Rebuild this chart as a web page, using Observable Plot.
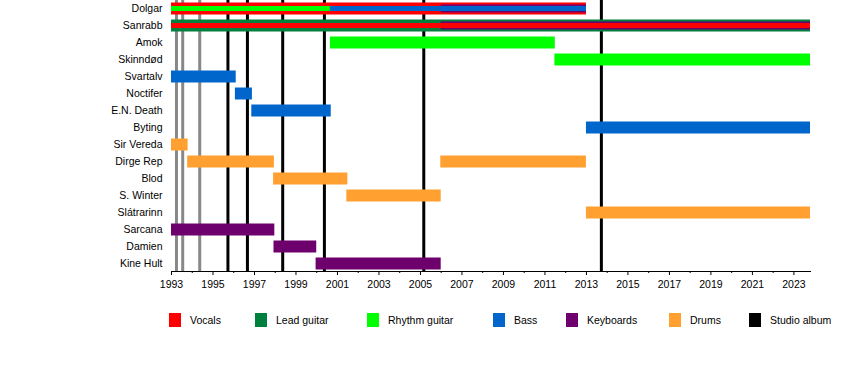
<!DOCTYPE html>
<html>
<head>
<meta charset="utf-8">
<script src="https://cdn.jsdelivr.net/npm/d3@7"></script>
<script src="https://cdn.jsdelivr.net/npm/@observablehq/plot@0.6"></script>
<style>
  html, body { margin: 0; padding: 0; background: #fff; }
  body { font-family: "Liberation Sans", Arial, sans-serif; }
  #chart { position: relative; width: 850px; }
  #legend { position: relative; width: 850px; height: 60px; font-size: 10.5px; color: #000; }
  .item { position: absolute; top: 13px; height: 14px; }
  .sw { position: absolute; left: 0; top: 0; width: 12px; height: 14px; }
  .lb { position: absolute; left: 21px; top: 0; line-height: 14px; white-space: nowrap; }
</style>
</head>
<body>
<div id="chart"></div>
<div id="legend"></div>
<script>
// ---- data ----
const members = ["Dolgar", "Sanrabb", "Amok", "Skinndød", "Svartalv", "Noctifer", "E.N. Death", "Byting",
  "Sir Vereda", "Dirge Rep", "Blod", "S. Winter", "Slátrarinn", "Sarcana", "Damien", "Kine Hult"];
const roles = ["Vocals", "Lead guitar", "Rhythm guitar", "Bass", "Keyboards", "Drums"];
const legendLabels = ["Vocals", "Lead guitar", "Rhythm guitar", "Bass", "Keyboards", "Drums", "Studio album"];
const timelineEnd = 2023.8;
// main role of each member: [member, role, from, to]
const primarySpells = [
  ["Dolgar", "Vocals", 1993, 2013.0],
  ["Sanrabb", "Lead guitar", 1993, timelineEnd],
  ["Amok", "Rhythm guitar", 2000.66, 2011.5],
  ["Skinndød", "Rhythm guitar", 2011.48, timelineEnd],
  ["Svartalv", "Bass", 1993, 1996.12],
  ["Noctifer", "Bass", 1996.08, 1996.9],
  ["E.N. Death", "Bass", 1996.87, 2000.7],
  ["Byting", "Bass", 2013.0, timelineEnd],
  ["Sir Vereda", "Drums", 1993, 1993.8],
  ["Dirge Rep", "Drums", 1993.78, 1997.96],
  ["Dirge Rep", "Drums", 2005.98, 2013.0],
  ["Blod", "Drums", 1997.92, 2001.5],
  ["S. Winter", "Drums", 2001.45, 2006.0],
  ["Slátrarinn", "Drums", 2013.0, timelineEnd],
  ["Sarcana", "Keyboards", 1993, 1997.98],
  ["Damien", "Keyboards", 1997.94, 2000.0],
  ["Kine Hult", "Keyboards", 1999.97, 2006.0]
];
// additional roles
const secondarySpells = [
  ["Dolgar", "Keyboards", 2006.0, 2013.0],
  ["Sanrabb", "Keyboards", 2006.0, timelineEnd]
];
const innerSpells = [
  ["Dolgar", "Rhythm guitar", 1993, 2000.66],
  ["Dolgar", "Bass", 2000.66, 2013.0],
  ["Sanrabb", "Vocals", 1993, timelineEnd]
];
const studioAlbums = [1995.72, 1996.66, 1998.36, 2000.37, 2005.16, 2013.72];
const otherReleases = [1993.24, 1993.54, 1994.36];
const yearTicks = d3.range(1993, 2024, 2);
const minorTicks = d3.range(1994, 2024, 2);

// ---- chart ----
const roleColors = ["#ff0000", "#00803f", "#00ff00", "#0066cc", "#6e006e", "#ffa030"];
const toRows = a => a.map(([member, role, from, to]) => ({member, role, from, to}));
const color = d => roleColors[roles.indexOf(d.role)];
const font = "'Liberation Sans', Arial, sans-serif";

const chart = Plot.plot({
  width: 850,
  height: 300,
  marginLeft: 171,
  marginRight: 40,
  marginTop: 0,
  marginBottom: 29,
  style: {fontFamily: font, fontSize: "10.5px", color: "#000", background: "#fff"},
  x: {domain: [1993, timelineEnd], axis: null},
  y: {type: "point", domain: members, range: [6.5, 265], padding: 0, axis: null},
  marks: [
    Plot.ruleX(otherReleases, {x: d => d, stroke: "#888888", strokeWidth: 3}),
    Plot.ruleX(studioAlbums, {x: d => d, stroke: "#000000", strokeWidth: 3}),
    Plot.ruleY(toRows(primarySpells), {y: "member", x1: "from", x2: "to", stroke: color, strokeWidth: 12}),
    Plot.ruleY(toRows(secondarySpells), {y: "member", x1: "from", x2: "to", stroke: color, strokeWidth: 8}),
    Plot.ruleY(toRows(innerSpells), {y: "member", x1: "from", x2: "to", stroke: color, strokeWidth: 5}),
    Plot.frame({anchor: "bottom", stroke: "#000"}),
    Plot.axisX({ticks: yearTicks, tickFormat: "d", tickSize: 4, tickPadding: 5, stroke: "#000", fill: "#000", label: null}),
    Plot.axisX({ticks: minorTicks, tickFormat: () => "", tickSize: 2, stroke: "#000", label: null}),
    Plot.axisY({tickSize: 0, tickPadding: 9, fill: "#000", label: null})
  ]
});
document.getElementById("chart").appendChild(chart);

// ---- legend ----
const legendColors = [...roleColors, "#000000"];
const legendLeft = [169, 255, 367, 493, 566, 669, 749];
const legend = document.getElementById("legend");
legendLabels.forEach((label, i) => {
  const item = document.createElement("div");
  item.className = "item";
  item.style.left = legendLeft[i] + "px";
  const sw = document.createElement("div");
  sw.className = "sw";
  sw.style.background = legendColors[i];
  const lb = document.createElement("div");
  lb.className = "lb";
  lb.textContent = label;
  item.appendChild(sw);
  item.appendChild(lb);
  legend.appendChild(item);
});
</script>
</body>
</html>
